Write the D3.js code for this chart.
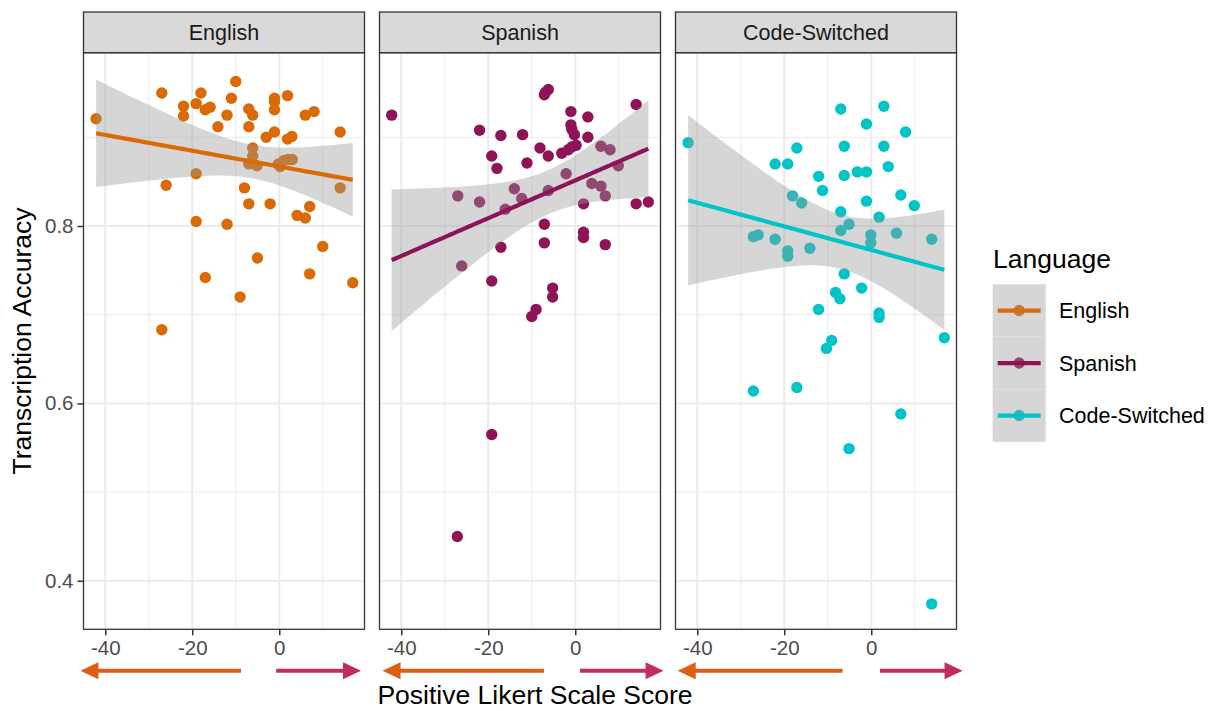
<!DOCTYPE html>
<html><head><meta charset="utf-8">
<script src="https://cdn.jsdelivr.net/npm/d3@7"></script>
<style>
body{margin:0;background:#fff}
svg{display:block;font-family:"Liberation Sans",Arial,Helvetica,sans-serif}
</style>
</head><body>
<svg id="chart" width="1209" height="711"></svg>
<script>
// ---------------- data ----------------
const languages = ["English", "Spanish", "Code-Switched"];
const languageColors = ["#d96a04", "#8e1457", "#00c4c8"];

const englishScore = [-42.1,-27.0,-26.0,-22.0,-22.0,-19.1,-18.0,-17.0,-15.9,-19.1,-14.1,-12.0,-11.0,-10.0,-7.0,-6.1,-7.0,-19.1,-12.0,-8.0,-7.0,-6.1,-6.1,-7.0,-5.1,-2.1,-3.0,-1.1,-1.1,-1.1,-1.1,1.9,1.9,2.9,-0.2,1.1,2.0,3.0,0.2,6.0,8.0,14.0,14.0,4.1,6.0,7.0,-17.0,-9.0,-5.0,7.0,10.0,16.9,-27.0];
const englishAccuracy = [0.921,0.950,0.846,0.935,0.924,0.938,0.950,0.931,0.934,0.859,0.912,0.925,0.944,0.963,0.932,0.925,0.912,0.805,0.802,0.843,0.825,0.888,0.879,0.870,0.868,0.825,0.900,0.944,0.940,0.931,0.906,0.947,0.898,0.901,0.870,0.874,0.875,0.875,0.867,0.925,0.929,0.906,0.843,0.812,0.809,0.822,0.742,0.720,0.764,0.746,0.777,0.736,0.683];

const spanishScore = [-42.2,-22.0,-17.1,-12.1,-19.2,-18.0,-11.1,-8.1,-6.2,-7.1,-6.8,-6.2,-3.1,-1.0,-1.0,-0.8,-0.2,-0.8,0.2,-1.6,2.9,2.9,14.0,14.0,16.8,-27.0,-22.0,-16.1,-14.0,-12.3,-6.2,-2.1,1.9,3.8,5.9,6.9,5.9,8.0,9.9,-7.1,1.9,1.9,6.9,-7.1,-17.1,-26.1,-19.2,-5.2,-5.2,-9.0,-10.0,-19.2,-27.1];
const spanishAccuracy = [0.925,0.908,0.902,0.903,0.879,0.865,0.871,0.888,0.879,0.948,0.951,0.954,0.882,0.929,0.914,0.909,0.903,0.889,0.891,0.886,0.923,0.900,0.937,0.825,0.827,0.834,0.827,0.819,0.842,0.831,0.840,0.859,0.825,0.848,0.845,0.834,0.890,0.886,0.868,0.802,0.793,0.787,0.779,0.781,0.776,0.755,0.738,0.730,0.720,0.706,0.698,0.565,0.450];

const codeSwitchedScore = [-42.1,-7.0,2.9,-1.1,7.9,-6.2,2.9,-17.1,-22.1,-19.2,3.9,-3.2,-1.1,-6.2,-12.1,-11.2,-18.1,-16.0,-1.1,6.8,9.9,-7.0,1.8,-7.0,-5.1,-27.1,-26.0,-22.1,-0.1,-0.1,5.8,13.9,-19.2,-19.2,-14.1,-6.2,-2.2,-8.2,-7.2,-12.1,1.8,1.8,-9.1,-10.3,16.8,-27.1,-17.1,6.8,-5.1,13.9];
const codeSwitchedAccuracy = [0.894,0.932,0.935,0.915,0.906,0.890,0.890,0.888,0.870,0.870,0.867,0.861,0.861,0.857,0.856,0.840,0.834,0.826,0.828,0.835,0.823,0.816,0.810,0.795,0.802,0.788,0.790,0.785,0.790,0.781,0.792,0.785,0.772,0.766,0.775,0.746,0.730,0.725,0.718,0.706,0.702,0.697,0.671,0.662,0.674,0.614,0.618,0.588,0.549,0.374];

const xTickValues = [-40, -20, 0];
const xMinorValues = [-30, -10, 10];
const yTickValues = [0.4, 0.6, 0.8];
const yMinorValues = [0.5, 0.7, 0.9];

const xTitle = "Positive Likert Scale Score";
const yTitle = "Transcription Accuracy";
const legendTitle = "Language";

// direction arrows under each panel (in x-score units): [leftTip, leftTail, rightTail, rightTip]
const arrowSpans = [[-45.7, -8.8, -0.7, 18.8], [-44.3, -7.2, 1.1, 20.3], [-44.5, -6.6, 2.0, 21.0]];
const arrowColors = ["#de5d10", "#c22c5e"];

// ---------------- layout ----------------
const panelLefts = [83.5, 379.5, 675.5];
const panelW = 281;
const panelTop = 52.7, panelBottom = 629.3;
const stripTop = 12;

const svg = d3.select("#chart");

const x = d3.scaleLinear().domain([-45.0, 19.6]).range([0, panelW]);
const y = d3.scaleLinear().domain([0.3453, 0.9954]).range([panelBottom, panelTop]);

const seriesList = [
  {score: englishScore, acc: englishAccuracy},
  {score: spanishScore, acc: spanishAccuracy},
  {score: codeSwitchedScore, acc: codeSwitchedAccuracy}
];

function tQuant(df) {
  const z = 1.959964;
  return z + (z ** 3 + z) / (4 * df) + (5 * z ** 5 + 16 * z ** 3 + 3 * z) / (96 * df * df);
}

function lmFit(xs, ys) {
  const n = xs.length;
  const mx = d3.mean(xs), my = d3.mean(ys);
  let sxx = 0, sxy = 0;
  for (let i = 0; i < n; i++) { sxx += (xs[i] - mx) ** 2; sxy += (xs[i] - mx) * (ys[i] - my); }
  const b = sxy / sxx, a = my - b * mx;
  let sse = 0;
  for (let i = 0; i < n; i++) sse += (ys[i] - a - b * xs[i]) ** 2;
  const s = Math.sqrt(sse / (n - 2));
  const t = tQuant(n - 2);
  const [lo, hi] = d3.extent(xs);
  return d3.range(80).map(k => {
    const xv = lo + (hi - lo) * k / 79;
    const fit = a + b * xv;
    const se = s * Math.sqrt(1 / n + (xv - mx) ** 2 / sxx);
    return {x: xv, y: fit, lo: fit - t * se, hi: fit + t * se};
  });
}

const gridColor = "#ebebeb";
const borderColor = "#333333";

seriesList.forEach((ser, i) => {
  const g = svg.append("g").attr("transform", `translate(${panelLefts[i]},0)`);
  const data = ser.score.map((s, k) => ({x: s, y: ser.acc[k]}));
  const color = languageColors[i];

  g.append("rect").attr("x", 0).attr("y", panelTop).attr("width", panelW).attr("height", panelBottom - panelTop).attr("fill", "#fff");

  g.selectAll(".vminor").data(xMinorValues).join("line")
    .attr("x1", d => x(d)).attr("x2", d => x(d)).attr("y1", panelTop).attr("y2", panelBottom)
    .attr("stroke", gridColor).attr("stroke-width", 1);
  g.selectAll(".hminor").data(yMinorValues).join("line")
    .attr("x1", 0).attr("x2", panelW).attr("y1", d => y(d)).attr("y2", d => y(d))
    .attr("stroke", gridColor).attr("stroke-width", 1);
  g.selectAll(".vmajor").data(xTickValues).join("line")
    .attr("x1", d => x(d)).attr("x2", d => x(d)).attr("y1", panelTop).attr("y2", panelBottom)
    .attr("stroke", gridColor).attr("stroke-width", 2);
  g.selectAll(".hmajor").data(yTickValues).join("line")
    .attr("x1", 0).attr("x2", panelW).attr("y1", d => y(d)).attr("y2", d => y(d))
    .attr("stroke", gridColor).attr("stroke-width", 2);

  g.selectAll("circle.pt").data(data).join("circle").attr("class", "pt")
    .attr("cx", d => x(d.x)).attr("cy", d => y(d.y)).attr("r", 5.7).attr("fill", color);

  const fit = lmFit(ser.score, ser.acc);
  g.append("path").datum(fit)
    .attr("d", d3.area().x(d => x(d.x)).y0(d => y(d.lo)).y1(d => y(d.hi)))
    .attr("fill", "#999999").attr("fill-opacity", 0.4);
  g.append("path").datum(fit)
    .attr("d", d3.line().x(d => x(d.x)).y(d => y(d.y)))
    .attr("fill", "none").attr("stroke", color).attr("stroke-width", 4.2);

  g.append("rect").attr("x", 0).attr("y", panelTop).attr("width", panelW).attr("height", panelBottom - panelTop)
    .attr("fill", "none").attr("stroke", borderColor).attr("stroke-width", 1.3);

  g.append("rect").attr("x", 0).attr("y", stripTop).attr("width", panelW).attr("height", panelTop - stripTop)
    .attr("fill", "#d9d9d9").attr("stroke", borderColor).attr("stroke-width", 1.3);
  g.append("text").attr("x", panelW / 2).attr("y", (stripTop + panelTop) / 2).attr("dy", "0.35em")
    .attr("text-anchor", "middle").attr("font-size", 21.5).attr("fill", "#1a1a1a").text(languages[i]);

  const xa = g.append("g").attr("transform", `translate(0,${panelBottom})`)
    .call(d3.axisBottom(x).tickValues(xTickValues).tickSize(6).tickPadding(5).tickFormat(d => String(d)));
  xa.select(".domain").remove();
  xa.selectAll(".tick line").attr("stroke", borderColor).attr("stroke-width", 1.5);
  xa.selectAll(".tick text").attr("font-size", 20.5).attr("fill", "#4d4d4d").attr("font-family", "Liberation Sans, Arial, sans-serif");

  const [lt, ltail, rtail, rt] = arrowSpans[i];
  const ay = 670.7;
  const headL = 18, headH = 8.5;
  const aL = x(lt), aLt = x(ltail), aR = x(rtail), aRt = x(rt);
  g.append("line").attr("x1", aL + headL - 2).attr("x2", aLt).attr("y1", ay).attr("y2", ay)
    .attr("stroke", arrowColors[0]).attr("stroke-width", 4);
  g.append("path").attr("d", `M${aL},${ay}L${aL + headL},${ay - headH}L${aL + headL},${ay + headH}Z`).attr("fill", arrowColors[0]);
  g.append("line").attr("x1", aR).attr("x2", aRt - headL + 2).attr("y1", ay).attr("y2", ay)
    .attr("stroke", arrowColors[1]).attr("stroke-width", 4);
  g.append("path").attr("d", `M${aRt},${ay}L${aRt - headL},${ay - headH}L${aRt - headL},${ay + headH}Z`).attr("fill", arrowColors[1]);
});

const ya = svg.append("g").attr("transform", `translate(${panelLefts[0]},0)`)
  .call(d3.axisLeft(y).tickValues(yTickValues).tickSize(6).tickPadding(4).tickFormat(d3.format(".1f")));
ya.select(".domain").remove();
ya.selectAll(".tick line").attr("stroke", borderColor).attr("stroke-width", 1.5);
ya.selectAll(".tick text").attr("font-size", 20.5).attr("fill", "#4d4d4d").attr("font-family", "Liberation Sans, Arial, sans-serif");

svg.append("text").attr("x", 535).attr("y", 704).attr("text-anchor", "middle")
  .attr("font-size", 26.5).attr("fill", "#000").text(xTitle);
svg.append("text").attr("transform", `translate(31,${(panelTop + panelBottom) / 2}) rotate(-90)`)
  .attr("text-anchor", "middle").attr("font-size", 26.5).attr("fill", "#000").text(yTitle);

const lg = svg.append("g");
lg.append("text").attr("x", 993).attr("y", 268).attr("font-size", 26.5).attr("fill", "#000").text(legendTitle);
const keyTop = 284.3, keyH = 52.5, keyX = 992.7, keyW = 53;
languages.forEach((lang, i) => {
  const ky = keyTop + i * keyH;
  const cy = ky + keyH / 2;
  lg.append("rect").attr("x", keyX).attr("y", ky).attr("width", keyW).attr("height", keyH).attr("fill", "#fff");
  lg.append("circle").attr("cx", keyX + keyW / 2).attr("cy", cy).attr("r", 5.7).attr("fill", languageColors[i]);
  lg.append("rect").attr("x", keyX).attr("y", ky).attr("width", keyW).attr("height", keyH).attr("fill", "#999999").attr("fill-opacity", 0.4);
  lg.append("line").attr("x1", keyX + 5).attr("x2", keyX + keyW - 5).attr("y1", cy).attr("y2", cy)
    .attr("stroke", languageColors[i]).attr("stroke-width", 4.2);
  lg.append("text").attr("x", 1059).attr("y", cy).attr("dy", "0.35em").attr("font-size", 21.5)
    .attr("fill", "#000").text(lang);
});
</script>
</body></html>
